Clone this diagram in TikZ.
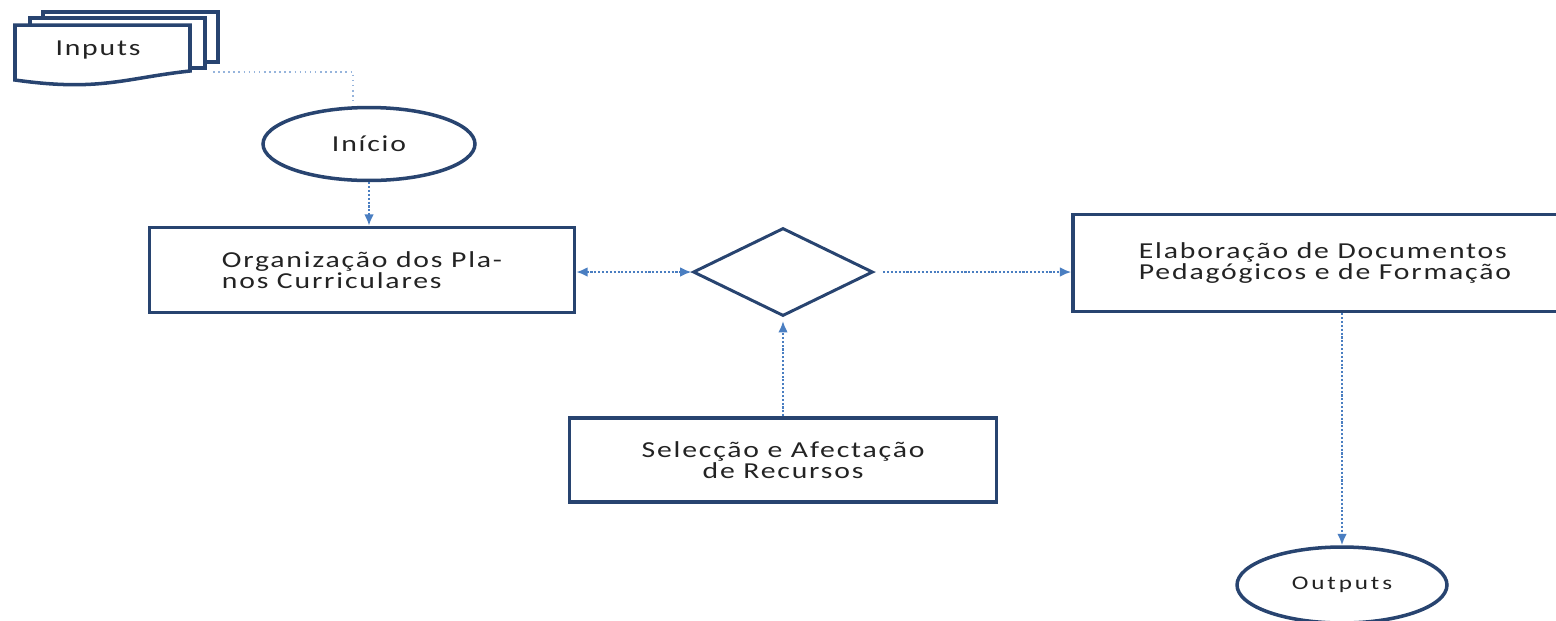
\documentclass[tikz,border=0pt]{standalone}
\usepackage{fontspec}
\setmainfont{Carlito}[FakeStretch=1.3,LetterSpace=8]
\usetikzlibrary{shapes.geometric,arrows.meta}

\definecolor{boxblue}{RGB}{40,68,112}
\definecolor{linkblue}{RGB}{74,126,193}
\definecolor{paleblue}{RGB}{150,180,220}
\definecolor{textgray}{RGB}{35,35,35}

\begin{document}
\begin{tikzpicture}[
    x=0.02cm, y=-0.02cm,
    >={Latex[length=6.5pt,width=5.5pt]},
    every node/.style={font=\fontsize{13}{10.5}\selectfont, text=textgray},
    box/.style={rectangle, draw=boxblue, line width=2pt, fill=white},
    terminal/.style={ellipse, draw=boxblue, line width=2pt, fill=white},
    decision/.style={diamond, draw=boxblue, line width=1.7pt, minimum width=3.6cm, minimum height=1.76cm},
    doc/.style={draw=boxblue, line width=2pt, fill=white},
    link/.style={draw=linkblue, line width=1.2pt, densely dotted, ->},
    faintlink/.style={draw=paleblue, line width=0.9pt, dotted}
]
  \useasboundingbox (0,0) rectangle (1556,620);

  % Inputs (stacked documents)
  \path[doc] (43,12) -- (218,12) -- (218,62) -- (43,62) -- cycle;
  \path[doc] (30,18) -- (205,18) -- (205,68) -- (30,68) -- cycle;
  \path[doc] (15,25) -- (190,25) -- (190,71) .. controls (125,78) and (100,92) .. (15,80) -- cycle;
  \node (inputs) at (98,50) {Inputs};
  \coordinate (inputs-out) at (213,72);
  \coordinate (inicio-in) at (353,101);

  % Main flow
  \node[terminal, minimum width=4.24cm, minimum height=1.46cm] (inicio) at (369,144) {Início};
  \node[box, minimum width=8.5cm, minimum height=1.7cm, align=left] (organizacao) at (362,270)
    {Organização dos Pla-\\nos Curriculares};
  \node[decision] (decisao) at (783,272) {};
  \node[box, minimum width=10.08cm, minimum height=1.94cm, align=left] (elaboracao) at (1325,263)
    {Elaboração de Documentos\\Pedagógicos e de Formação};
  \node[box, minimum width=8.54cm, minimum height=1.68cm, align=center] (seleccao) at (783,460)
    {Selecção e Afectação\\de Recursos};
  \node[terminal, minimum width=4.2cm, minimum height=1.52cm] (outputs) at (1342,585)
    {\fontsize{11}{12}\selectfont\addfontfeature{LetterSpace=15}Outputs};

  % Connectors
  \draw[faintlink] (inputs-out) -| (inicio-in);
  \draw[link] (inicio.south) -- (inicio.south |- organizacao.north);
  \draw[link, <->] (organizacao.east |- decisao.west) -- (decisao.west);
  \draw[link, shorten <=5pt] (decisao.east) -- (decisao.east -| elaboracao.west);
  \draw[link, shorten >=2pt] (seleccao.north) -- (decisao.south);
  \draw[link] (elaboracao.south -| outputs.north) -- (outputs.north);
\end{tikzpicture}
\end{document}
